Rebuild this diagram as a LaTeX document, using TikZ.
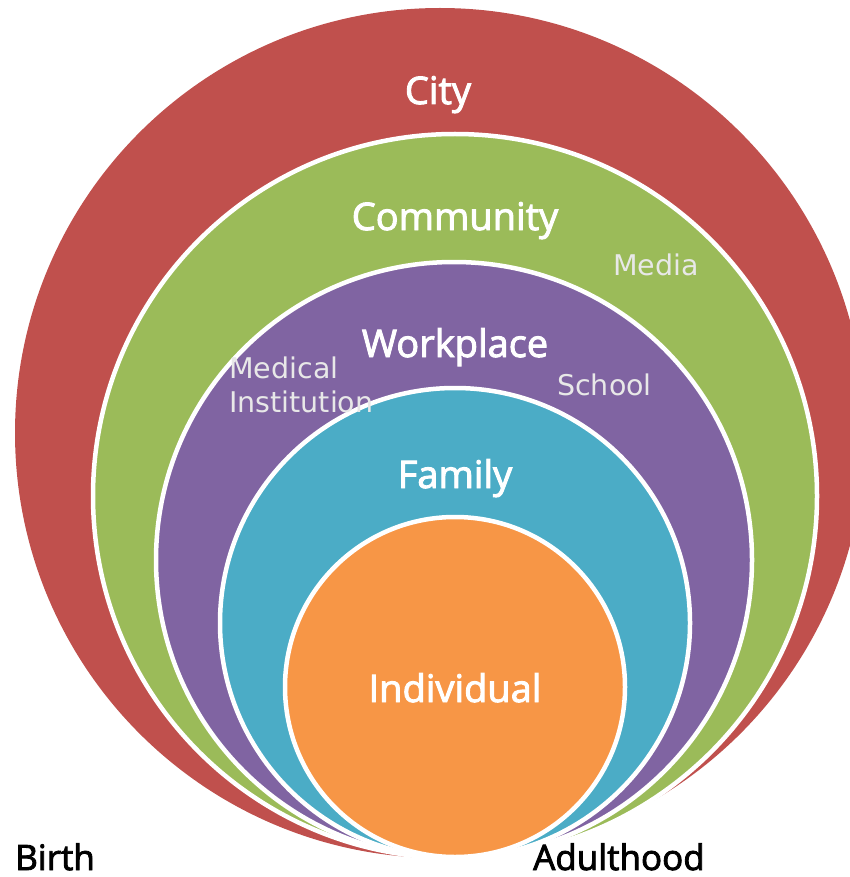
\documentclass[tikz,border=0pt]{standalone}
\usepackage{fontspec}
\setmainfont{Open Sans}
\newfontfamily\layerfont{Open Sans}[FakeBold=2.5]
\newfontfamily\verdanalike{DejaVu Sans}
\usetikzlibrary{positioning}
\definecolor{cityred}{HTML}{C0504D}
\definecolor{commgreen}{HTML}{9BBB59}
\definecolor{workpurple}{HTML}{8064A2}
\definecolor{famteal}{HTML}{4BACC6}
\definecolor{indorange}{HTML}{F79646}
\definecolor{softgray}{HTML}{E8E8E8}

\begin{document}
\begin{tikzpicture}[x=1pt,y=-1pt,
    ring/.style={draw=white,line width=4.5pt},
    layer/.style={text=white,font=\layerfont\fontsize{38}{42}\selectfont,anchor=base,inner sep=0pt},
    place/.style={text=softgray,font=\verdanalike\fontsize{28.5}{34}\selectfont,anchor=base west,inner sep=0pt},
    age/.style={text=black,font=\layerfont\fontsize{35}{40}\selectfont,anchor=base west,inner sep=0pt}]
  \useasboundingbox (0,0) rectangle (850,877);
  \clip (0,0) rectangle (850,877);
  % the nested circles, outer to inner
  \fill[cityred] (440,433) circle[radius=425pt];
  \filldraw[ring,fill=commgreen] (455,496) circle[radius=362pt];
  \filldraw[ring,fill=workpurple] (454,560) circle[radius=298pt];
  \filldraw[ring,fill=famteal] (455,623) circle[radius=235pt];
  \filldraw[ring,fill=indorange] (455,687) circle[radius=170pt];
  % layer names
  \node[layer] (city) at (438,104) {City};
  \node[layer] (community) at (455,230) {Community};
  \node[layer] (workplace) at (455,357) {Workplace};
  \node[layer] (family) at (455,488) {Family};
  \node[layer] (individual) at (455,702) {Individual};
  % places inside the layers
  \node[place] (media) at (613,275) {Media};
  \node[place] (school) at (557,395) {School};
  \node[place] (medical) at (229,378) {Medical};
  \node[place] (institution) at (229,412) {Institution};
  % ends of the time line
  \node[age] (birth) at (15,870) {Birth};
  \node[age] (adulthood) at (533,870) {Adulthood};
\end{tikzpicture}
\end{document}
